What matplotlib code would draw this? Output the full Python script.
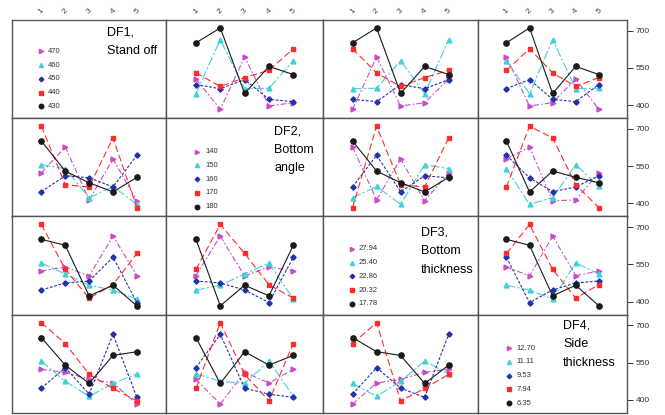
import numpy as np
import pandas as pd
import matplotlib
matplotlib.use("Agg")
import matplotlib.pyplot as plt

plt.rcParams['font.family'] = ['Liberation Sans', 'DejaVu Sans']

# factor names (shown on the diagonal) and level labels, level code 1..5
factor_names = [["DF1,", "Stand off"], ["DF2,", "Bottom", "angle"],
                ["DF3,", "Bottom", "thickness"], ["DF4,", "Side", "thickness"]]
df1_labels = ["430", "440", "450", "460", "470"]
df2_labels = ["180", "170", "160", "150", "140"]
df3_labels = ["17.78", "20.32", "22.86", "25.40", "27.94"]
df4_labels = ["6.35", "7.94", "9.53", "11.11", "12.70"]
level_labels = [df1_labels, df2_labels, df3_labels, df4_labels]

# L25 runs: level codes of each factor and the response
df1 = [1, 1, 1, 1, 1, 2, 2, 2, 2, 2, 3, 3, 3, 3, 3, 4, 4, 4, 4, 4, 5, 5, 5, 5, 5]
df2 = [1, 2, 3, 4, 5, 1, 2, 3, 4, 5, 1, 2, 3, 4, 5, 1, 2, 3, 4, 5, 1, 2, 3, 4, 5]
df3 = [1, 2, 3, 4, 5, 2, 3, 4, 5, 1, 3, 4, 5, 1, 2, 4, 5, 1, 2, 3, 5, 1, 2, 3, 4]
df4 = [1, 2, 3, 4, 5, 3, 4, 5, 1, 2, 5, 1, 2, 3, 4, 2, 3, 4, 5, 1, 4, 5, 1, 2, 3]
response = [651, 711, 447, 556, 523,
            530, 475, 511, 540, 627,
            483, 466, 503, 423, 414,
            446, 664, 466, 468, 579,
            505, 383, 594, 396, 410]

runs = pd.DataFrame({"DF1": df1, "DF2": df2, "DF3": df3, "DF4": df4, "y": response})
factors = ["DF1", "DF2", "DF3", "DF4"]

# styles per level code 1..5
colors = {1: "#1a1a1a", 2: "#FF2A2A", 3: "#2232A8", 4: "#44D0D8", 5: "#C84BC8"}
markers = {1: "o", 2: "s", 3: "D", 4: "^", 5: ">"}
msizes = {1: 3.8, 2: 3.0, 3: 2.7, 4: 3.5, 5: 3.5}
dashes = {1: None, 2: (6, 3), 3: (2.5, 1.5), 4: (8, 2, 2, 2), 5: (5, 2, 1.5, 2)}

# per-diagonal layout: marker x, label x, first legend y, title x, first title y
diag_pos = [(0.19, 0.23, 0.68, 0.62, 0.87),
            (0.20, 0.25, 0.66, 0.69, 0.87),
            (0.19, 0.23, 0.67, 0.63, 0.84),
            (0.21, 0.26, 0.66, 0.57, 0.89)]

fig = plt.figure(figsize=(6.65, 4.15), dpi=100)
gs = fig.add_gridspec(4, 4, left=12/665, right=627/665, top=1-20/415, bottom=1-413/415,
                      wspace=0, hspace=0, width_ratios=[154, 157, 155, 149])

for i in range(4):
    for j in range(4):
        ax = fig.add_subplot(gs[i, j])
        ax.set_xlim(-0.23, 6.22)
        ax.set_ylim(347, 743)
        for s in ax.spines.values():
            s.set_color("#555555")
            s.set_linewidth(1.0)

        ax.set_xticks([1, 2, 3, 4, 5])
        ax.set_yticks([400, 550, 700])
        ax.tick_params(axis="x", bottom=False, labelbottom=False, top=False,
                       labeltop=(i == 0), length=0, pad=3, labelsize=6,
                       labelrotation=45, labelcolor="#444444")
        ax.tick_params(axis="y", left=False, labelleft=False, right=(j == 3),
                       labelright=(j == 3), length=4, width=0.7, pad=2,
                       labelsize=6, colors="#333333")

        if i == j:
            mx, lx, ly, tx, ty = diag_pos[i]
            for k, lev in enumerate([5, 4, 3, 2, 1]):
                yy = ly - k * 0.14
                ax.plot([mx], [yy], marker=markers[lev], color=colors[lev],
                        ms=msizes[lev] * 0.85, ls="none", transform=ax.transAxes)
                ax.text(lx, yy, level_labels[i][lev - 1], transform=ax.transAxes,
                        fontsize=5.5, va="center", ha="left", color="#333333")
            for k, line in enumerate(factor_names[i]):
                ax.text(tx, ty - k * 0.19, line, transform=ax.transAxes,
                        fontsize=9, va="center", ha="left")
            continue

        table = runs.pivot_table(index=factors[i], columns=factors[j], values="y")
        for lev in [5, 4, 3, 2, 1]:
            vals = table.loc[lev]
            line, = ax.plot(vals.index, vals.values, color=colors[lev],
                            marker=markers[lev], ms=msizes[lev], lw=0.8)
            if dashes[lev] is not None:
                line.set_dashes(dashes[lev])

fig.savefig("out.png", dpi=100)
